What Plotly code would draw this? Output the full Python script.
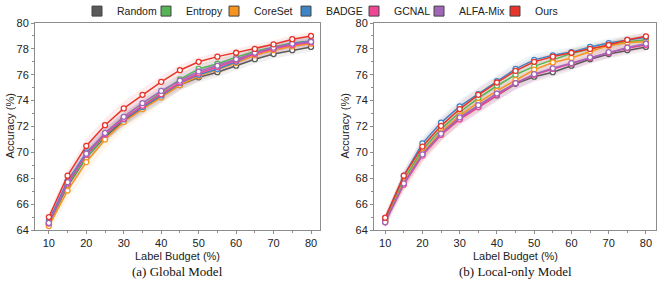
import plotly.graph_objects as go

budget = [10, 15, 20, 25, 30, 35, 40, 45, 50, 55, 60, 65, 70, 75, 80]
methods = ["Random", "Entropy", "CoreSet", "BADGE", "GCNAL", "ALFA-Mix", "Ours"]
colors = {"Random": "#5a5a5a", "Entropy": "#56b456", "CoreSet": "#f7941d", "BADGE": "#3f85c6",
          "GCNAL": "#ef4595", "ALFA-Mix": "#a266b8", "Ours": "#e8342b"}

# (a) Global Model
global_random = [64.5, 67.4, 69.6, 71.2, 72.45, 73.4, 74.3, 75.2, 75.8, 76.2, 76.7, 77.2, 77.6, 77.9, 78.15]
global_entropy = [64.4, 67.5, 69.6, 71.3, 72.6, 73.6, 74.65, 75.65, 76.45, 76.85, 77.35, 77.8, 78.15, 78.45, 78.6]
global_coreset = [64.3, 67.05, 69.25, 71.0, 72.35, 73.35, 74.25, 75.2, 75.9, 76.4, 76.9, 77.5, 77.9, 78.2, 78.4]
global_badge = [64.7, 67.8, 70.0, 71.4, 72.55, 73.5, 74.4, 75.35, 76.0, 76.45, 77.0, 77.65, 78.05, 78.4, 78.6]
global_gcnal = [64.5, 67.6, 69.8, 71.4, 72.6, 73.6, 74.5, 75.4, 76.1, 76.6, 77.1, 77.6, 78.0, 78.3, 78.5]
global_alfamix = [64.55, 67.7, 69.9, 71.5, 72.75, 73.8, 74.75, 75.55, 76.25, 76.7, 77.2, 77.7, 78.1, 78.4, 78.55]
global_ours = [65.0, 68.2, 70.5, 72.1, 73.4, 74.45, 75.45, 76.35, 77.0, 77.4, 77.7, 78.0, 78.35, 78.75, 79.0]

# (b) Local-only Model
local_random = [64.7, 67.6, 69.9, 71.4, 72.6, 73.5, 74.4, 75.3, 75.85, 76.2, 76.7, 77.2, 77.6, 77.9, 78.15]
local_entropy = [64.8, 67.9, 70.2, 71.8, 73.1, 74.2, 75.15, 76.0, 76.65, 77.15, 77.65, 78.0, 78.3, 78.55, 78.7]
local_coreset = [64.7, 67.7, 69.95, 71.55, 72.85, 73.85, 74.75, 75.6, 76.4, 76.95, 77.3, 77.8, 78.25, 78.5, 78.55]
local_badge = [64.9, 68.2, 70.7, 72.3, 73.55, 74.5, 75.5, 76.45, 77.15, 77.5, 77.75, 78.15, 78.45, 78.7, 78.9]
local_gcnal = [64.6, 67.5, 69.75, 71.35, 72.55, 73.5, 74.45, 75.35, 76.0, 76.45, 76.85, 77.3, 77.7, 78.05, 78.3]
local_alfamix = [64.6, 67.6, 69.85, 71.45, 72.7, 73.65, 74.55, 75.35, 76.05, 76.5, 76.9, 77.35, 77.75, 78.1, 78.4]
local_ours = [64.95, 68.2, 70.45, 72.05, 73.35, 74.45, 75.4, 76.3, 77.0, 77.4, 77.7, 78.0, 78.3, 78.7, 78.97]

# spread (std) per method, shared by both panels
std_random = [0.3, 0.4, 0.45, 0.45, 0.45, 0.45, 0.45, 0.4, 0.4, 0.4, 0.35, 0.35, 0.35, 0.35, 0.35]
std_entropy = [0.3, 0.4, 0.5, 0.5, 0.5, 0.45, 0.45, 0.4, 0.4, 0.4, 0.35, 0.35, 0.35, 0.35, 0.35]
std_coreset = [0.5, 0.7, 0.8, 0.7, 0.6, 0.55, 0.5, 0.45, 0.4, 0.4, 0.35, 0.35, 0.35, 0.35, 0.35]
std_badge = [0.3, 0.4, 0.5, 0.5, 0.5, 0.5, 0.5, 0.5, 0.45, 0.4, 0.35, 0.35, 0.35, 0.35, 0.35]
std_gcnal = [0.35, 0.45, 0.5, 0.5, 0.5, 0.5, 0.5, 0.5, 0.5, 0.45, 0.45, 0.4, 0.4, 0.35, 0.35]
std_alfamix = [0.35, 0.45, 0.5, 0.5, 0.5, 0.5, 0.5, 0.5, 0.5, 0.45, 0.45, 0.4, 0.4, 0.35, 0.35]
std_ours = [0.35, 0.45, 0.55, 0.55, 0.55, 0.5, 0.45, 0.4, 0.35, 0.3, 0.3, 0.3, 0.3, 0.3, 0.3]

panels = [
    {"Random": global_random, "Entropy": global_entropy, "CoreSet": global_coreset, "BADGE": global_badge,
     "GCNAL": global_gcnal, "ALFA-Mix": global_alfamix, "Ours": global_ours},
    {"Random": local_random, "Entropy": local_entropy, "CoreSet": local_coreset, "BADGE": local_badge,
     "GCNAL": local_gcnal, "ALFA-Mix": local_alfamix, "Ours": local_ours},
]
stds = {"Random": std_random, "Entropy": std_entropy, "CoreSet": std_coreset, "BADGE": std_badge,
        "GCNAL": std_gcnal, "ALFA-Mix": std_alfamix, "Ours": std_ours}
captions = ["(a) Global Model", "(b) Local-only Model"]

# legend entry left positions (px)
legend_px = [77, 146, 214, 286, 354, 419, 495]


def rgba(hex_color, a):
    h = hex_color.lstrip("#")
    r, g, b = int(h[0:2], 16), int(h[2:4], 16), int(h[4:6], 16)
    return f"rgba({r},{g},{b},{a})"


fig = go.Figure()

W, H = 664, 283
x_doms = [[35 / W, 320 / W], [374 / W, 656 / W]]
x_ranges = [[6.3, 82.4], [7.0, 82.7]]
y_dom = [1 - 230 / H, 1 - 23 / H]

for p, data in enumerate(panels):
    xa = "x" if p == 0 else "x2"
    ya = "y" if p == 0 else "y2"
    for m in methods:
        vals = data[m]
        sd = stds[m]
        upper = [v + s for v, s in zip(vals, sd)]
        lower = [v - s for v, s in zip(vals, sd)]
        fig.add_trace(go.Scatter(
            x=budget + budget[::-1], y=upper + lower[::-1],
            fill="toself", fillcolor=rgba(colors[m], 0.09), line=dict(width=0),
            mode="lines", hoverinfo="skip", showlegend=False, xaxis=xa, yaxis=ya))
    for m in methods:
        fig.add_trace(go.Scatter(
            x=budget, y=data[m], mode="lines+markers", name=m, showlegend=False,
            line=dict(color=colors[m], width=1.5),
            marker=dict(symbol="circle", size=5, color="white", line=dict(color=colors[m], width=1.3)),
            xaxis=xa, yaxis=ya))

# legend entries, one small legend per method
legend_layout = {}
for i, m in enumerate(methods):
    key = "legend" if i == 0 else f"legend{i + 1}"
    fig.add_trace(go.Scatter(
        x=[None], y=[None], mode="markers", name=m, showlegend=True, legend=key,
        marker=dict(symbol="square", size=10, color=colors[m], line=dict(color="#444444", width=1))))
    legend_layout[key] = dict(x=legend_px[i] / W, xanchor="left", y=1.012, yanchor="top",
                              orientation="h", itemwidth=30, bgcolor="rgba(0,0,0,0)",
                              font=dict(family="Liberation Sans, Arial", size=10.5, color="#222222"))

axis_common = dict(showline=True, linecolor="#8c8c8c", linewidth=1, mirror=True, automargin=False,
                   ticks="outside", ticklen=3, tickcolor="#8c8c8c", showgrid=False, zeroline=False,
                   tickfont=dict(family="Liberation Sans, Arial", size=11, color="#222222"))

for p in range(2):
    sfx = "" if p == 0 else "2"
    fig.update_layout(**{
        f"xaxis{sfx}": dict(domain=x_doms[p], range=x_ranges[p], tickvals=[10, 20, 30, 40, 50, 60, 70, 80],
                            minor=dict(tickvals=[15, 25, 35, 45, 55, 65, 75], ticks="outside", ticklen=2,
                                       tickcolor="#8c8c8c"),
                            anchor="y" + sfx if p else "y", **axis_common),
        f"yaxis{sfx}": dict(domain=y_dom, range=[64, 80], tickvals=[64, 66, 68, 70, 72, 74, 76, 78, 80],
                            minor=dict(tickvals=[65, 67, 69, 71, 73, 75, 77, 79], ticks="outside", ticklen=2,
                                       tickcolor="#8c8c8c"),
                            anchor="x" + sfx if p else "x", **axis_common),
    })

annotations = []
centers = [(35 + 320) / 2 / W, (374 + 656) / 2 / W]
ytitle_x = [9 / W, 344 / W]
for p in range(2):
    annotations.append(dict(text="Label Budget (%)", x=centers[p], y=1 - 256 / H, xref="paper", yref="paper",
                            showarrow=False, font=dict(family="Liberation Sans, Arial", size=11, color="#222222"),
                            xanchor="center", yanchor="middle"))
    annotations.append(dict(text=captions[p], x=centers[p], y=1 - 271 / H, xref="paper", yref="paper",
                            showarrow=False, font=dict(family="Liberation Serif, Times New Roman", size=13,
                                                       color="#111111"),
                            xanchor="center", yanchor="middle"))
    annotations.append(dict(text="Accuracy (%)", x=ytitle_x[p], y=(y_dom[0] + y_dom[1]) / 2, xref="paper",
                            yref="paper", showarrow=False, textangle=-90,
                            font=dict(family="Liberation Sans, Arial", size=11, color="#222222"),
                            xanchor="center", yanchor="middle"))

fig.update_layout(
    width=W, height=H, margin=dict(l=0, r=0, t=0, b=0, autoexpand=False),
    plot_bgcolor="white", paper_bgcolor="white",
    annotations=annotations,
    **legend_layout,
)

fig.write_html("out.html", config={"displayModeBar": False},
               post_script="document.body.style.margin='0';document.body.style.overflow='hidden';")
